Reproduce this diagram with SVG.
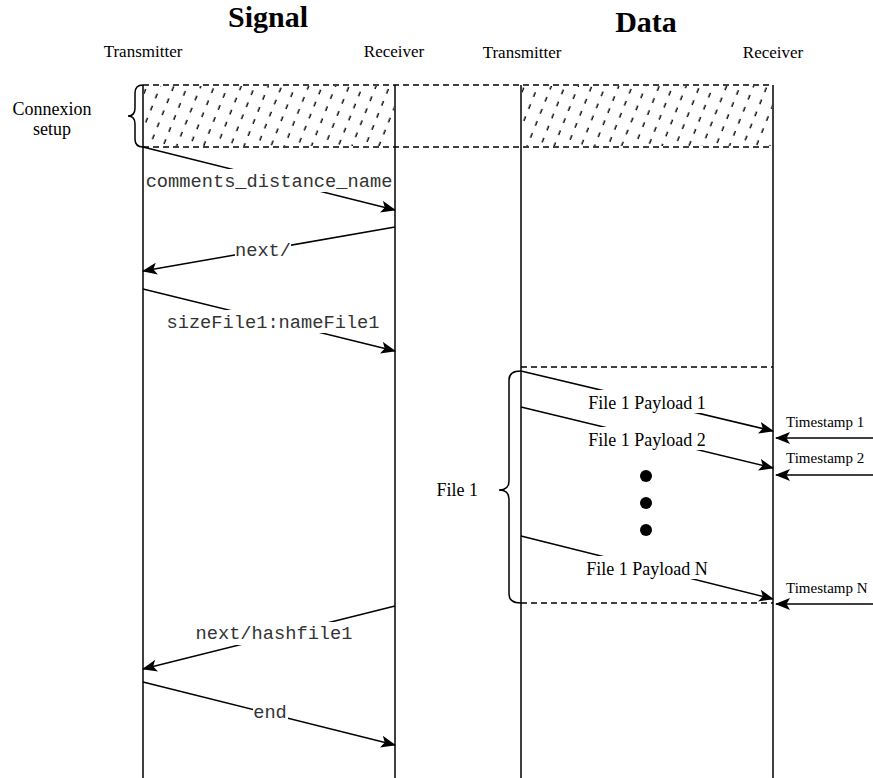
<svg xmlns="http://www.w3.org/2000/svg" width="873" height="778" viewBox="0 0 873 778">
<style>
.serif{font-family:"Liberation Serif","Times New Roman",serif;fill:#000}
.title{font-size:30px;font-weight:bold;text-anchor:middle}
.hdr{font-size:17px;text-anchor:middle}
.lbl{font-size:18px;text-anchor:middle}
.ts{font-size:15px}
.mono{font-family:"Liberation Mono","Courier New",monospace;font-size:18.7px;text-anchor:middle;fill:#333}
.life{stroke:#000;stroke-width:1.5;fill:none}
.dash{stroke:#000;stroke-width:1.5;stroke-dasharray:6 4;fill:none}
.msg{stroke:#000;stroke-width:1.5;fill:none;marker-end:url(#arr)}
.brace{stroke:#000;stroke-width:1.5;fill:none}
.bg{fill:#fff}
</style>
<defs>
<marker id="arr" markerUnits="userSpaceOnUse" markerWidth="15" markerHeight="12" viewBox="0 0 15 12" refX="14" refY="6" orient="auto">
<path d="M0,0 L15,6 L0,12 L3.5,6 Z" fill="#000"/>
</marker>
<pattern id="hatch" patternUnits="userSpaceOnUse" width="12.5" height="13" patternTransform="rotate(22)">
<line x1="6" y1="2" x2="6" y2="7" stroke="#000" stroke-width="1.4"/>
</pattern>
</defs>

<g id="titles">
<text class="serif title" x="268" y="27">Signal</text>
<text class="serif title" x="646" y="32">Data</text>
</g>

<g id="signal-transmitter">
<text class="serif hdr" x="143" y="57">Transmitter</text>
<line class="life" x1="143" y1="85" x2="143" y2="778"/>
</g>
<g id="signal-receiver">
<text class="serif hdr" x="394" y="57">Receiver</text>
<line class="life" x1="395" y1="85" x2="395" y2="778"/>
</g>
<g id="data-transmitter">
<text class="serif hdr" x="522" y="58">Transmitter</text>
<line class="life" x1="521" y1="85" x2="521" y2="778"/>
</g>
<g id="data-receiver">
<text class="serif hdr" x="773" y="58">Receiver</text>
<line class="life" x1="773" y1="85" x2="773" y2="778"/>
</g>

<g id="connexion-setup">
<rect x="144" y="86" width="250" height="60" fill="url(#hatch)"/>
<rect x="522" y="86" width="250" height="60" fill="url(#hatch)"/>
<line class="dash" x1="143" y1="85" x2="773" y2="85"/>
<line class="dash" x1="143" y1="147" x2="773" y2="147"/>
<path class="brace" d="M143,85 Q135,85 135,93 L135,108 Q135,116 128,116 Q135,116 135,124 L135,139 Q135,147 143,147"/>
<text class="serif lbl" x="52" y="115">Connexion</text>
<text class="serif lbl" x="52" y="135">setup</text>
</g>

<g id="file1">
<line class="dash" x1="521" y1="367" x2="773" y2="367"/>
<line class="dash" x1="521" y1="603" x2="773" y2="603"/>
<path class="brace" d="M521,371 Q509,371 509,380 L509,481 Q509,490 499,490 Q509,490 509,499 L509,594 Q509,603 521,603"/>
<text class="serif lbl" x="478" y="496" style="text-anchor:end">File 1</text>
</g>

<g id="dots">
<circle cx="646" cy="476" r="6" fill="#000"/>
<circle cx="646" cy="503" r="6" fill="#000"/>
<circle cx="646" cy="530" r="6" fill="#000"/>
</g>

<g id="connectors">
<line class="msg" x1="143" y1="147" x2="395" y2="210"/>
<rect class="bg" x="144" y="169" width="250" height="23"/>
<text class="mono" x="269" y="187">comments_distance_name</text>

<line class="msg" x1="395" y1="227" x2="143" y2="271"/>
<rect class="bg" x="235" y="240" width="56" height="22"/>
<text class="mono" x="263" y="256">next/</text>

<line class="msg" x1="143" y1="289" x2="395" y2="351"/>
<rect class="bg" x="166" y="310" width="214" height="23"/>
<text class="mono" x="273" y="328">sizeFile1:nameFile1</text>

<line class="msg" x1="395" y1="606" x2="143" y2="669"/>
<rect class="bg" x="196" y="622" width="158" height="23"/>
<text class="mono" x="274" y="639">next/hashfile1</text>

<line class="msg" x1="143" y1="682" x2="395" y2="745"/>
<rect class="bg" x="253" y="701" width="35" height="20"/>
<text class="mono" x="270" y="718">end</text>

<line class="msg" x1="521" y1="371" x2="773" y2="431"/>
<rect class="bg" x="585" y="390" width="125" height="23"/>
<text class="serif lbl" x="647" y="409">File 1 Payload 1</text>

<line class="msg" x1="521" y1="407" x2="773" y2="468"/>
<rect class="bg" x="585" y="427" width="125" height="23"/>
<text class="serif lbl" x="647" y="446">File 1 Payload 2</text>

<line class="msg" x1="521" y1="536" x2="773" y2="599"/>
<rect class="bg" x="584" y="556" width="127" height="23"/>
<text class="serif lbl" x="647" y="575">File 1 Payload N</text>

<line class="msg" x1="873" y1="438" x2="776" y2="438"/>
<line class="msg" x1="873" y1="475" x2="776" y2="475"/>
<line class="msg" x1="873" y1="604" x2="776" y2="604"/>
</g>

<g id="timestamps">
<text class="serif ts" x="786" y="427">Timestamp 1</text>
<text class="serif ts" x="786" y="463">Timestamp 2</text>
<text class="serif ts" x="786" y="593">Timestamp N</text>
</g>
</svg>
